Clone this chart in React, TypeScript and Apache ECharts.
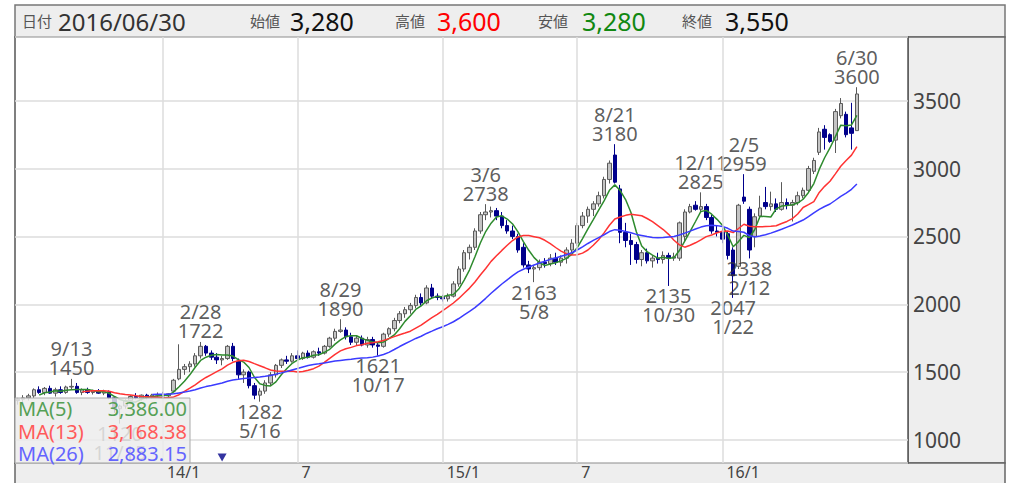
import React, { useEffect, useRef } from "react";
import * as echarts from "echarts";

const FONT = '"Noto Sans", "Noto Sans CJK JP", sans-serif';

// Weekly candle dates (last trading day of each week)
const dates = [
  "2013/07/05","2013/07/12","2013/07/19","2013/07/26","2013/08/02","2013/08/09","2013/08/16","2013/08/23","2013/08/30","2013/09/06",
  "2013/09/13","2013/09/20","2013/09/27","2013/10/04","2013/10/11","2013/10/18","2013/10/25","2013/11/01","2013/11/08","2013/11/15",
  "2013/11/22","2013/11/29","2013/12/06","2013/12/13","2013/12/20","2013/12/27","2013/12/30","2014/01/10","2014/01/17","2014/01/24",
  "2014/01/31","2014/02/07","2014/02/14","2014/02/21","2014/02/28","2014/03/07","2014/03/14","2014/03/20","2014/03/28","2014/04/04",
  "2014/04/11","2014/04/18","2014/04/25","2014/05/02","2014/05/09","2014/05/16","2014/05/23","2014/05/30","2014/06/06","2014/06/13",
  "2014/06/20","2014/06/27","2014/07/04","2014/07/11","2014/07/18","2014/07/25","2014/08/01","2014/08/08","2014/08/15","2014/08/22",
  "2014/08/29","2014/09/05","2014/09/12","2014/09/19","2014/09/26","2014/10/03","2014/10/10","2014/10/17","2014/10/24","2014/10/31",
  "2014/11/07","2014/11/14","2014/11/21","2014/11/28","2014/12/05","2014/12/12","2014/12/19","2014/12/26","2014/12/30","2015/01/09",
  "2015/01/16","2015/01/23","2015/01/30","2015/02/06","2015/02/13","2015/02/20","2015/02/27","2015/03/06","2015/03/13","2015/03/20",
  "2015/03/27","2015/04/03","2015/04/10","2015/04/17","2015/04/24","2015/05/01","2015/05/08","2015/05/15","2015/05/22","2015/05/29",
  "2015/06/05","2015/06/12","2015/06/19","2015/06/26","2015/07/03","2015/07/10","2015/07/17","2015/07/24","2015/07/31","2015/08/07",
  "2015/08/14","2015/08/21","2015/08/28","2015/09/04","2015/09/11","2015/09/18","2015/09/25","2015/10/02","2015/10/09","2015/10/16",
  "2015/10/23","2015/10/30","2015/11/06","2015/11/13","2015/11/20","2015/11/27","2015/12/04","2015/12/11","2015/12/18","2015/12/25",
  "2015/12/30","2016/01/08","2016/01/15","2016/01/22","2016/01/29","2016/02/05","2016/02/12","2016/02/19","2016/02/26","2016/03/04",
  "2016/03/11","2016/03/18","2016/03/25","2016/04/01","2016/04/08","2016/04/15","2016/04/22","2016/04/28","2016/05/06","2016/05/13",
  "2016/05/20","2016/05/27","2016/06/03","2016/06/10","2016/06/17","2016/06/24","2016/06/30",
];
// empty weeks to the right of the last candle
const futureDates = ["2016/07/08","2016/07/15","2016/07/22","2016/07/29","2016/08/05","2016/08/12","2016/08/19","2016/08/26","2016/09/02"];

const opens = [
  1290,1300,1310,1325,1370,1350,1380,1345,1370,1350,
  1390,1395,1350,1370,1350,1360,1345,1355,1310,1230,
  1250,1290,1320,1310,1330,1315,1330,1335,1325,1360,
  1450,1520,1540,1560,1620,1690,1640,1610,1590,1600,
  1690,1580,1480,1500,1400,1330,1360,1420,1480,1550,
  1590,1580,1620,1600,1640,1610,1650,1640,1690,1750,
  1800,1810,1760,1720,1750,1700,1740,1700,1690,1780,
  1820,1880,1930,1960,1990,2050,2010,2120,2060,2050,
  2040,2060,2150,2260,2380,2420,2540,2660,2680,2690,
  2650,2580,2540,2500,2420,2290,2260,2270,2310,2300,
  2340,2310,2340,2400,2450,2580,2650,2700,2740,2800,
  2920,3100,2850,2530,2470,2440,2330,2380,2320,2340,
  2330,2360,2340,2340,2500,2680,2730,2700,2720,2640,
  2540,2530,2520,2400,2280,2790,2700,2500,2650,2750,
  2720,2740,2700,2750,2730,2750,2800,2840,2980,3120,
  3290,3250,3210,3390,3400,3300,3280,
];
const highs = [
  1310,1330,1340,1380,1395,1390,1400,1385,1395,1400,
  1450,1420,1380,1385,1370,1375,1370,1365,1320,1260,
  1300,1330,1345,1335,1340,1340,1350,1355,1345,1450,
  1705,1560,1580,1640,1722,1700,1660,1640,1620,1700,
  1715,1600,1520,1510,1420,1380,1440,1500,1560,1600,
  1620,1640,1660,1650,1660,1660,1680,1700,1760,1820,
  1890,1830,1790,1770,1770,1760,1760,1720,1790,1830,
  1900,1950,1980,2010,2070,2080,2140,2150,2080,2070,
  2080,2170,2280,2400,2440,2560,2680,2738,2720,2710,
  2680,2620,2580,2520,2450,2320,2290,2330,2340,2370,
  2380,2360,2420,2480,2600,2680,2720,2760,2830,2940,
  3060,3180,2880,2600,2520,2460,2400,2410,2360,2380,
  2390,2380,2380,2610,2700,2740,2760,2825,2740,2660,
  2580,2560,2540,2420,2740,2959,2720,2670,2800,2865,
  2830,2780,2900,2780,2770,2830,2860,3020,3080,3300,
  3320,3260,3440,3520,3420,3485,3600,
];
const lows = [
  1260,1280,1290,1310,1340,1330,1340,1320,1340,1340,
  1370,1340,1330,1340,1335,1340,1330,1300,1200,1120,
  1230,1280,1300,1290,1300,1305,1310,1315,1310,1350,
  1440,1480,1500,1540,1600,1620,1590,1560,1550,1590,
  1580,1450,1420,1380,1300,1282,1340,1400,1460,1530,
  1560,1570,1590,1590,1600,1600,1620,1630,1680,1730,
  1790,1740,1700,1700,1690,1680,1680,1621,1680,1760,
  1800,1860,1900,1930,1970,1990,2000,2040,2030,2020,
  2020,2050,2130,2240,2330,2400,2520,2620,2640,2620,
  2560,2520,2480,2380,2270,2230,2163,2250,2270,2280,
  2290,2280,2300,2380,2430,2560,2600,2650,2720,2780,
  2890,2890,2450,2420,2290,2300,2280,2300,2270,2300,
  2300,2135,2320,2320,2460,2670,2690,2680,2620,2520,
  2500,2450,2330,2047,2260,2740,2338,2420,2630,2700,
  2690,2680,2690,2700,2610,2730,2780,2820,2960,3100,
  3140,3190,3115,3370,3230,3140,3280,
];
const closes = [
  1300,1310,1325,1370,1350,1380,1345,1370,1350,1390,
  1395,1350,1370,1350,1360,1345,1355,1310,1230,1250,
  1290,1320,1310,1330,1315,1330,1335,1325,1340,1440,
  1520,1540,1560,1620,1690,1640,1610,1590,1600,1690,
  1600,1480,1500,1400,1330,1360,1420,1480,1550,1590,
  1580,1620,1600,1640,1610,1650,1640,1690,1750,1800,
  1810,1760,1720,1750,1700,1740,1700,1690,1780,1820,
  1880,1930,1960,1990,2050,2010,2120,2060,2050,2040,
  2060,2150,2260,2380,2420,2540,2660,2680,2690,2650,
  2580,2540,2500,2400,2290,2260,2270,2310,2300,2340,
  2310,2340,2400,2450,2580,2650,2700,2740,2800,2920,
  3040,2900,2530,2470,2440,2330,2380,2320,2340,2330,
  2360,2340,2350,2600,2680,2720,2700,2720,2640,2540,
  2530,2480,2360,2210,2730,2760,2400,2645,2710,2720,
  2740,2700,2750,2730,2750,2800,2840,3000,3060,3270,
  3230,3200,3420,3480,3250,3260,3550,
];

// x-axis month marks
const axisMarks = ["2014/01/10", "2014/07/04", "2015/01/09", "2015/07/03", "2016/01/08"];
const axisMarkLabels = ["14/1", "7", "15/1", "7", "16/1"];

// annotated highs / lows (candle indexes)
const highIdx = [10, 34, 60, 87, 111, 127, 135, 156];
const lowIdx = [19, 45, 67, 96, 121, 133, 136];

// event marker (▼)
const eventIdx = [38];
const eventLevel = [870];

// moving averages
const maPeriods = [5, 13, 26];
const maColors = ["#2e8b2e", "#ff3333", "#3b3bff"];
const maLegendColors = ["#55a055", "#ff5a5a", "#6464ff"];
const maLegendValues = ["3,386.00", "3,168.38", "2,883.15"];

// header
const headerLabels = ["日付", "始値", "高値", "安値", "終値"];

const fmt = (v: number) => v.toLocaleString("en-US");
const md = (d: string) => {
  const p = d.split("/");
  return `${parseInt(p[1], 10)}/${parseInt(p[2], 10)}`;
};

function movingAverage(period: number) {
  return closes.map((_, i) => {
    if (i < period - 1) return "-";
    let s = 0;
    for (let k = i - period + 1; k <= i; k++) s += closes[k];
    return +(s / period).toFixed(2);
  });
}

export default function App() {
  const ref = useRef<HTMLDivElement>(null);

  useEffect(() => {
    if (!ref.current) return;
    const chart = echarts.init(ref.current, null, { renderer: "svg" });
    const last = dates.length - 1;
    const categories = [...dates, ...futureDates];
    const headerValues = [
      dates[last],
      fmt(opens[last]),
      fmt(highs[last]),
      fmt(lows[last]),
      fmt(closes[last]),
    ];
    const headerValueColors = ["#333333", "#111111", "#ff0000", "#118811", "#111111"];
    const headerLabelX = [22, 250, 395, 538, 682];
    const headerValueX = [58, 290, 437, 582, 725];
    const headerValueSize = [24, 25, 25, 25, 25];

    const candleData = dates.map((_, i) => [opens[i], closes[i], lows[i], highs[i]]);

    const annData: any[] = [];
    highIdx.forEach((idx) => {
      annData.push({
        value: [idx, highs[idx]],
        label: { position: "top", distance: 1, formatter: `${md(dates[idx])}\n${highs[idx]}` },
      });
    });
    lowIdx.forEach((idx) => {
      annData.push({
        value: [idx, lows[idx]],
        label: { position: "bottom", distance: 0, formatter: `${lows[idx]}\n${md(dates[idx])}` },
      });
    });

    const textStyle = (text: string, x: number, y: number, fill: string, fontSize: number, align: string) => ({
      text, x, y, fill, fontSize, fontFamily: FONT,
      textAlign: align, align, textVerticalAlign: "middle", verticalAlign: "middle",
    });

    const graphic: any[] = [
      { type: "rect", z: -10, shape: { x: 15, y: 5, width: 990, height: 32 }, style: { fill: "#eeeeee", stroke: "#777777", lineWidth: 1.5 } },
      { type: "rect", z: -10, shape: { x: 908, y: 37, width: 97, height: 426 }, style: { fill: "#eeeeee", stroke: "#666666", lineWidth: 1.5 } },
      { type: "rect", z: -10, shape: { x: 15, y: 463, width: 990, height: 26 }, style: { fill: "#eeeeee", stroke: "#666666", lineWidth: 1.5 } },
    ];
    headerLabels.forEach((t, k) => {
      graphic.push({ type: "text", z: 50, style: textStyle(t, headerLabelX[k], 21, "#555555", 15, "left") });
      graphic.push({ type: "text", z: 50, style: textStyle(headerValues[k], headerValueX[k], 21, headerValueColors[k], headerValueSize[k], "left") });
    });

    // MA legend box (semi-transparent, over the plot)
    graphic.push({
      type: "rect", z: 100,
      shape: { x: 15, y: 398, width: 175, height: 65 },
      style: { fill: "rgba(236,236,236,0.84)", stroke: "#aaaaaa", lineWidth: 1 },
    });
    const rowY = [408, 431, 453];
    maPeriods.forEach((p, k) => {
      graphic.push({ type: "text", z: 101, style: textStyle(`MA(${p})`, 18, rowY[k], maLegendColors[k], 20, "left") });
      graphic.push({ type: "text", z: 101, style: textStyle(maLegendValues[k], 187, rowY[k], maLegendColors[k], 20, "right") });
    });

    const option: any = {
      animation: false,
      backgroundColor: "#ffffff",
      textStyle: { fontFamily: FONT },
      grid: {
        left: 15, right: 116, top: 37, bottom: 20,
        show: true, backgroundColor: "#ffffff", borderColor: "#555555", borderWidth: 1.5,
      },
      xAxis: {
        type: "category",
        data: categories,
        boundaryGap: true,
        axisLine: { show: false },
        axisTick: { show: false },
        splitLine: { show: false },
        axisLabel: {
          interval: (_i: number, v: string) => axisMarks.indexOf(v) >= 0,
          formatter: (v: string) => {
            const k = axisMarks.indexOf(v);
            return k >= 0 ? axisMarkLabels[k] : "";
          },
          align: "left",
          padding: [0, 0, 0, 4],
          margin: 1,
          fontSize: 16,
          lineHeight: 16,
          color: "#444444",
          fontFamily: FONT,
        },
      },
      yAxis: {
        type: "value",
        position: "right",
        min: 830,
        max: 3970,
        splitNumber: 5,
        axisLine: { show: false },
        axisTick: { show: false },
        splitLine: { show: true, lineStyle: { color: "#dddddd", width: 1.5 } },
        axisLabel: {
          showMinLabel: false,
          showMaxLabel: false,
          formatter: (v: number) => (v % 500 === 0 ? String(v) : ""),
          margin: 5,
          fontSize: 21,
          color: "#444444",
          fontFamily: FONT,
        },
      },
      series: [
        {
          type: "line",
          data: [],
          silent: true,
          z: 1,
          markLine: {
            silent: true,
            symbol: ["none", "none"],
            label: { show: false },
            lineStyle: { color: "#dddddd", width: 1.5, type: "solid" },
            data: axisMarks.map((d) => ({ xAxis: d })),
          },
        },
        {
          type: "candlestick",
          data: candleData,
          barWidth: 4,
          z: 2,
          itemStyle: {
            color: "#c4c4c4",
            color0: "#00008b",
            borderColor: "#5a5a5a",
            borderColor0: "#00008b",
            borderWidth: 1,
          },
        },
        ...maPeriods.map((p, k) => ({
          type: "line",
          name: `MA(${p})`,
          data: movingAverage(p),
          symbol: "none",
          z: 3,
          lineStyle: { color: maColors[k], width: 1.5 },
          itemStyle: { color: maColors[k] },
        })),
        {
          type: "scatter",
          data: annData,
          symbol: "circle",
          symbolSize: 1,
          z: 4,
          itemStyle: { color: "rgba(0,0,0,0)" },
          label: { show: true, fontSize: 20, lineHeight: 19, color: "#333333", fontFamily: FONT },
        },
        {
          type: "scatter",
          data: eventIdx.map((idx, k) => [idx, eventLevel[k]]),
          symbol: "triangle",
          symbolRotate: 180,
          symbolSize: [9, 8],
          z: 4,
          itemStyle: { color: "#000088" },
        },
      ],
      graphic,
    };
    chart.setOption(option);
    return () => chart.dispose();
  }, []);

  return (
    <div
      ref={ref}
      style={{ position: "fixed", left: 0, top: 0, width: 1024, height: 483 }}
    />
  );
}
